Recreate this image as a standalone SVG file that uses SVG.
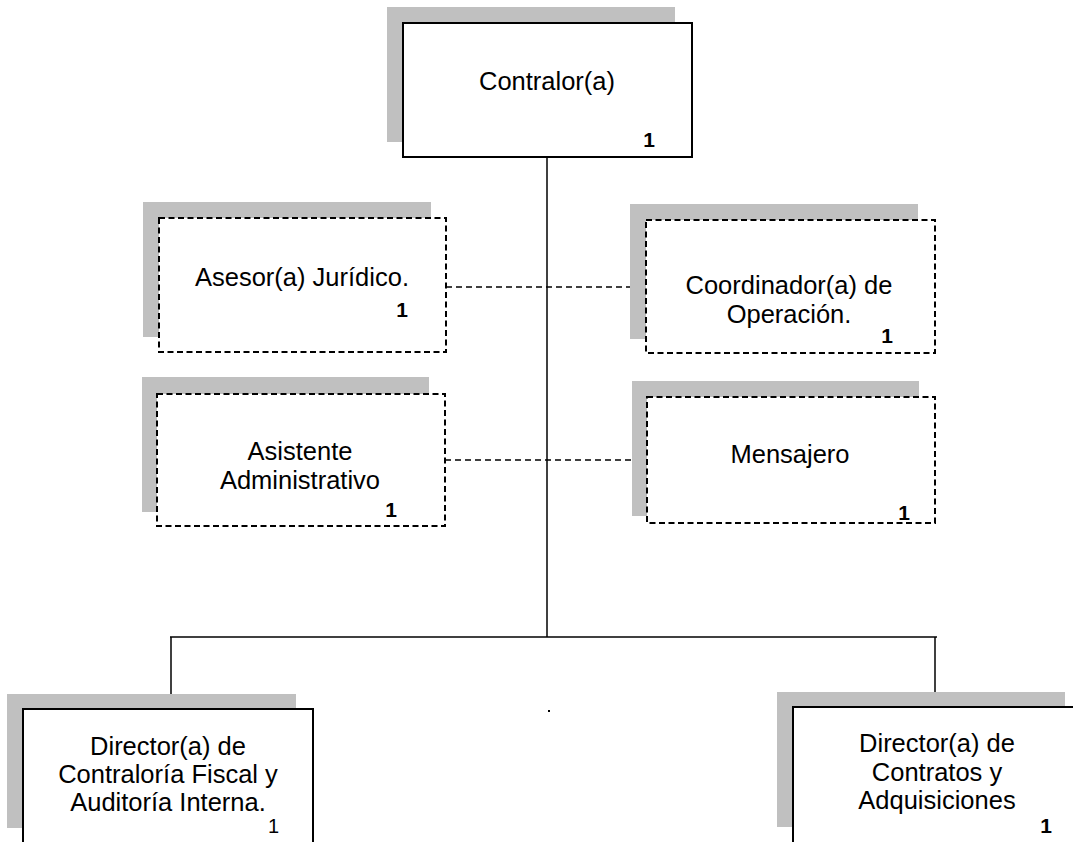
<svg xmlns="http://www.w3.org/2000/svg" width="1073" height="842" viewBox="0 0 1073 842">
  <style>
    .shadow { fill: #c0c0c0; stroke: none; }
    .box { fill: #ffffff; stroke: #000000; stroke-width: 2; }
    .dbox { fill: #ffffff; stroke: #000000; stroke-width: 2; stroke-dasharray: 6 3.5; }
    .label { font-family: "Liberation Sans", Arial, sans-serif; font-size: 25.5px; fill: #000000; text-anchor: middle; }
    .count { font-family: "Liberation Sans", Arial, sans-serif; font-size: 21px; font-weight: bold; fill: #000000; text-anchor: end; }
    .count-plain { font-family: "Liberation Sans", Arial, sans-serif; font-size: 20px; fill: #000000; text-anchor: end; }
    .line { stroke: #000000; stroke-width: 1.5; fill: none; }
    .dline { stroke: #000000; stroke-width: 1.3; fill: none; stroke-dasharray: 6 4; }
  </style>

  <!-- connectors -->
  <g id="connectors">
    <line class="line" x1="547" y1="157" x2="547" y2="637"/>
    <line class="line" x1="170" y1="637" x2="937" y2="637"/>
    <line class="line" x1="171" y1="637" x2="171" y2="697"/>
    <line class="line" x1="935" y1="637" x2="935" y2="692"/>
    <line class="dline" x1="446" y1="287" x2="646" y2="287"/>
    <line class="dline" x1="445" y1="460" x2="647" y2="460"/>
    <rect x="548" y="710" width="2" height="2" fill="#000000"/>
  </g>

  <!-- Contralor(a) -->
  <g id="contralor">
    <rect class="shadow" x="387" y="7" width="288" height="135"/>
    <rect class="box" x="403" y="23" width="289" height="134"/>
    <text class="label" x="547" y="90">Contralor(a)</text>
    <text class="count" x="655" y="147">1</text>
  </g>

  <!-- Asesor(a) Jurídico -->
  <g id="asesor">
    <rect class="shadow" x="143" y="202" width="288" height="135"/>
    <rect class="dbox" x="159" y="218" width="287" height="134"/>
    <text class="label" x="302" y="286">Asesor(a) Jurídico.</text>
    <text class="count" x="408" y="317">1</text>
  </g>

  <!-- Coordinador(a) de Operación -->
  <g id="coordinador">
    <rect class="shadow" x="630" y="204" width="288" height="135"/>
    <rect class="dbox" x="646" y="220" width="289" height="133"/>
    <text class="label" x="789" y="294">Coordinador(a) de</text>
    <text class="label" x="789" y="323">Operación.</text>
    <text class="count" x="893" y="343">1</text>
  </g>

  <!-- Asistente Administrativo -->
  <g id="asistente">
    <rect class="shadow" x="142" y="377" width="287" height="135"/>
    <rect class="dbox" x="157" y="394" width="288" height="132"/>
    <text class="label" x="300" y="460">Asistente</text>
    <text class="label" x="300" y="489">Administrativo</text>
    <text class="count" x="397" y="517">1</text>
  </g>

  <!-- Mensajero -->
  <g id="mensajero">
    <rect class="shadow" x="632" y="381" width="287" height="135"/>
    <rect class="dbox" x="647" y="397" width="288" height="126"/>
    <text class="label" x="790" y="463">Mensajero</text>
    <text class="count" x="910" y="520">1</text>
  </g>

  <!-- Director(a) de Contraloría Fiscal y Auditoría Interna -->
  <g id="director-contraloria">
    <rect class="shadow" x="7" y="694" width="289" height="134"/>
    <rect class="box" x="23" y="709" width="290" height="150"/>
    <text class="label" x="168" y="755">Director(a) de</text>
    <text class="label" x="168" y="783">Contraloría Fiscal y</text>
    <text class="label" x="168" y="811">Auditoría Interna.</text>
    <text class="count-plain" x="279" y="833">1</text>
  </g>

  <!-- Director(a) de Contratos y Adquisiciones -->
  <g id="director-contratos">
    <rect class="shadow" x="777" y="692" width="288" height="135"/>
    <rect class="box" x="793" y="707" width="300" height="150"/>
    <text class="label" x="937" y="752">Director(a) de</text>
    <text class="label" x="937" y="781">Contratos y</text>
    <text class="label" x="937" y="809">Adquisiciones</text>
    <text class="count" x="1052" y="833">1</text>
  </g>
</svg>
